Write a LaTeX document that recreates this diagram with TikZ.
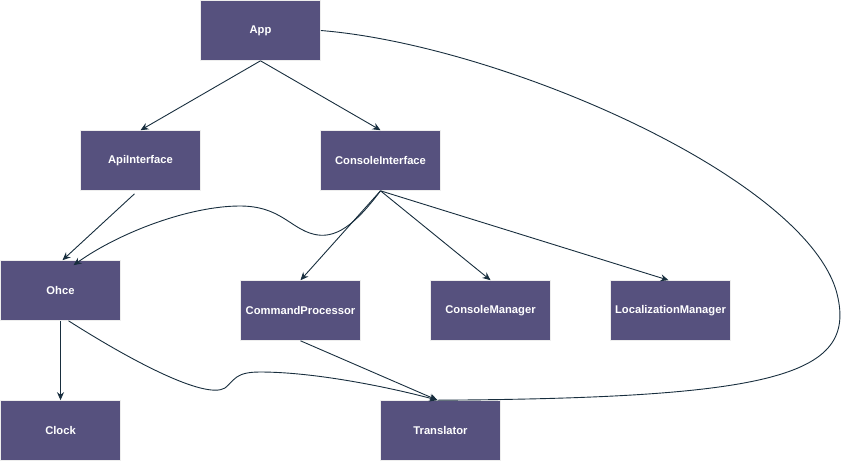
\documentclass[tikz,border=0pt]{standalone}
\usepackage{fontspec}
\setmainfont{Liberation Sans}
\usetikzlibrary{arrows.meta,positioning}
\definecolor{boxfill}{HTML}{56517E}
\definecolor{linkcol}{HTML}{182E3E}
\begin{document}
\begin{tikzpicture}[x=1pt, y=-1pt, >={Stealth[length=8pt,width=7pt]},
    box/.style={rectangle, fill=boxfill, draw=white!93!black, line width=0.6pt, minimum width=120pt, minimum height=60pt, inner sep=0pt, text=white, font=\fontsize{11.2}{13}\selectfont\bfseries},
    link/.style={draw=linkcol, line width=0.9pt}]
  \useasboundingbox (0,0) rectangle (842,461);
  % classes
  \node[box] (app) at (260.5,30.5) {App};
  \node[box] (api) at (140.5,160.5) {ApiInterface};
  \node[box] (console) at (380.5,160.5) {ConsoleInterface};
  \node[box] (ohce) at (60.5,290.5) {Ohce};
  \node[box] (cmd) at (300.5,310.5) {CommandProcessor};
  \node[box] (cman) at (490.5,310.5) {ConsoleManager};
  \node[box] (loc) at (670.5,310.5) {LocalizationManager};
  \node[box] (clock) at (60.5,430.5) {Clock};
  \node[box] (trans) at (440.5,430.5) {Translator};
  % dependencies
  \draw[link,->] (app.south) -- (api.north);
  \draw[link,->] (app.south) -- (console.north);
  \draw[link,->] ([xshift=-6pt,yshift=-3pt]api.south) -- ([xshift=2pt]ohce.north);
  \draw[link,->] (console.south) .. controls (355,225) and (335,240) .. (313,234)
    .. controls (290,228) and (280,206) .. (240,206)
    .. controls (190,206) and (120,232) .. ([xshift=13pt,yshift=-5pt]ohce.north);
  \draw[link,->] (console.south) -- (cmd.north);
  \draw[link,->] (console.south) -- (cman.north);
  \draw[link,->] (console.south) -- ([xshift=-2pt]loc.north);
  \draw[link,->] (ohce.south) -- (clock.north);
  \draw[link,->] ([xshift=8pt]ohce.south) .. controls (130,360) and (205,400) .. (225,388)
    .. controls (235,380) and (235,372) .. (260,372)
    .. controls (320,372) and (400,390) .. ([xshift=-3pt]trans.north);
  \draw[link,->] (cmd.south) -- ([xshift=-3pt]trans.north);
  \draw[link] (app.east) .. controls (500,45) and (800,175) .. (836,290)
    .. controls (860,375) and (780,398) .. ([xshift=-3pt]trans.north);
\end{tikzpicture}
\end{document}
